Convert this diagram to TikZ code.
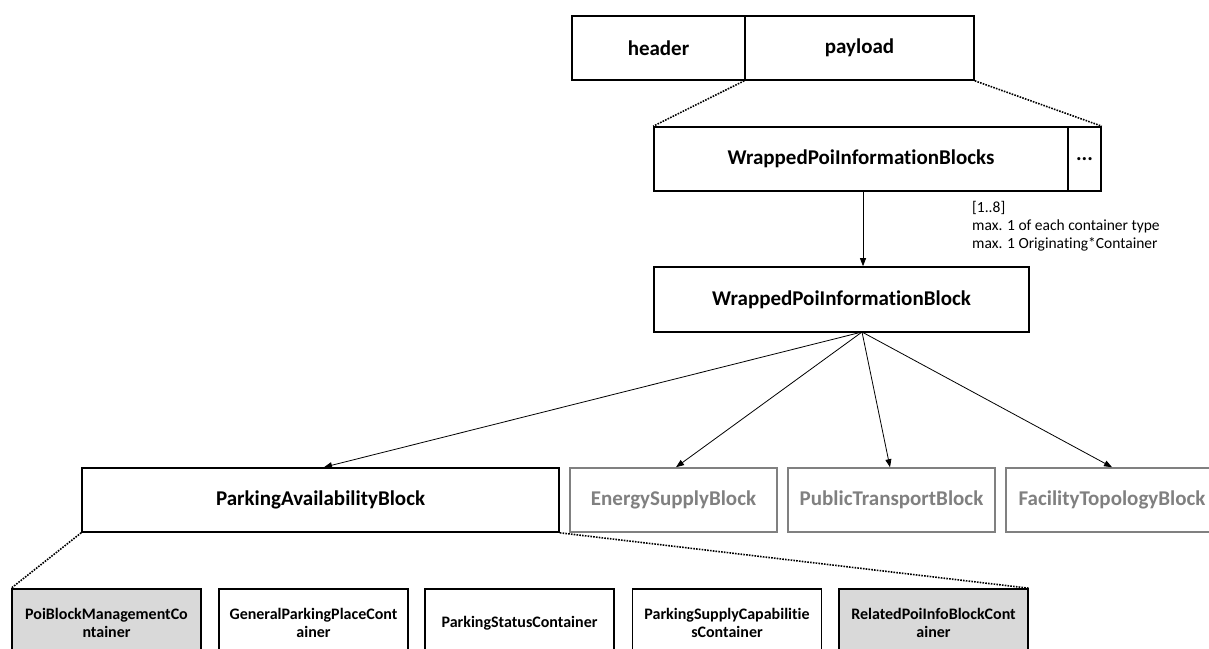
\documentclass[tikz,border=0pt]{standalone}
\usepackage{fontspec}
\setmainfont{Carlito}[Ligatures={NoCommon,NoRare,NoDiscretionary}]
\usetikzlibrary{arrows.meta}
\definecolor{boxgray}{HTML}{808080}
\definecolor{fillgray}{HTML}{D9D9D9}
\tikzset{
  blk/.style={draw=black, line width=1.6pt, minimum height=64pt, inner sep=0pt, font=\fontsize{21}{24}\selectfont\bfseries, text=black},
  gblk/.style={draw=boxgray, line width=1.6pt, minimum height=64pt, inner sep=0pt, font=\fontsize{21}{24}\selectfont\bfseries, text=boxgray},
  cont/.style={draw=black, line width=1.6pt, minimum width=189pt, minimum height=68pt, inner sep=0pt, align=center, font=\fontsize{16}{18.5}\selectfont\bfseries},
  gcont/.style={cont, fill=fillgray},
  arr/.style={line width=0.8pt, -{Triangle[length=8pt,width=6pt]}},
  dots/.style={line width=1.6pt, dash pattern=on 1.6pt off 1.2pt},
  note/.style={align=left, anchor=north west, inner sep=0pt, font=\fontsize{15.5}{18}\selectfont}
}
\begin{document}
\begin{tikzpicture}[x=1pt, y=-1pt]
\clip (0,0) rectangle (1209,648);
\useasboundingbox (0,0) rectangle (1209,648);
% top
\node[blk, minimum width=173pt] (header) at (658.5,48) {header};
\node[blk, minimum width=229pt] (payload) at (859.5,48) {payload};
\node[blk, minimum width=414pt] (wpibs) at (861,159) {WrappedPoiInformationBlocks};
\node[blk, minimum width=33pt] (more) at (1084.5,159) {...};
\draw[dots] (payload.south west) -- (wpibs.north west);
\draw[dots] (payload.south east) -- (more.north east);
% middle
\node[blk, minimum width=375pt, minimum height=65pt] (wpib) at (841.5,299.5) {WrappedPoiInformationBlock};
\coordinate (top) at (863,191);
\coordinate (fan) at (862,332);
\draw[arr] (top) -- (top |- wpib.north);
\node[note] (card) at (972,201) {[1..8]\\max. 1 of each container type\\max. 1 Originating*Container};
% blocks
\node[blk, minimum width=477pt] (pab) at (320.5,500) {ParkingAvailabilityBlock};
\node[gblk, minimum width=207pt] (esb) at (673.5,500) {EnergySupplyBlock};
\node[gblk, minimum width=207pt] (ptb) at (891.5,500) {PublicTransportBlock};
\node[gblk, minimum width=212pt] (ftb) at (1112,500) {FacilityTopologyBlock};
\draw[arr] (fan) -- (pab.north -| 324,0);
\draw[arr] (fan) -- (esb.north -| 676,0);
\draw[arr] (fan) -- (ptb.north -| 890,0);
\draw[arr] (fan) -- (ftb.north);
% containers
\node[gcont] (pbm) at (106.5,623) {PoiBlockManagementCo\\ntainer};
\node[cont] (gpp) at (313.5,623) {GeneralParkingPlaceCont\\ainer};
\node[cont] (psc) at (519.5,623) {ParkingStatusContainer};
\node[cont] (psu) at (727,623) {ParkingSupplyCapabilitie\\sContainer};
\node[gcont] (rel) at (933.5,623) {RelatedPoiInfoBlockCont\\ainer};
\draw[dots] (pab.south west) -- (pbm.north west);
\draw[dots] (pab.south east) -- (rel.north east);
\end{tikzpicture}
\end{document}
